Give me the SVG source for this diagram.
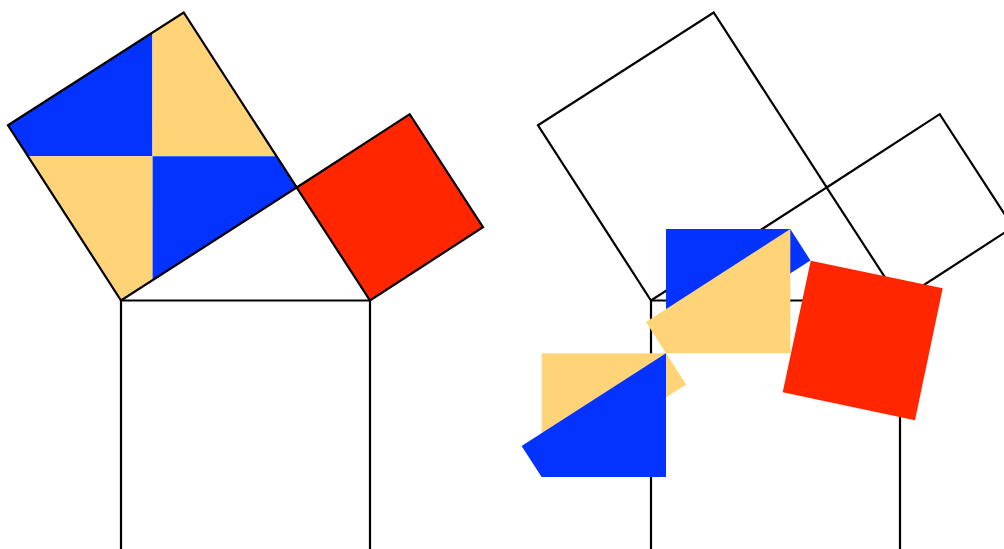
<svg xmlns="http://www.w3.org/2000/svg" width="1004" height="549" viewBox="0 0 1004 549">
<style>
.b{fill:#0433ff}
.y{fill:#ffd479}
.r{fill:#ff2600}
.o{fill:none;stroke:#000;stroke-width:2.2;stroke-linejoin:miter}
</style>
<rect width="1004" height="549" fill="#fff"/>
<g id="left-figure">
<g id="left-pieces">
<polygon class="b" points="8,125.3 152.4,32.4 152.4,156.2 27.9,156.2"/>
<polygon class="y" points="152.4,32.4 183.7,12.5 276.5,156.2 152.4,156.2"/>
<polygon class="b" points="152.4,156.2 276.5,156.2 296.7,187.5 152.4,280.3"/>
<polygon class="y" points="27.9,156.2 152.4,156.2 152.4,280.3 121,300.5"/>
<polygon class="r" points="296.7,187.5 409.7,114.2 483,227.2 370,300.5"/>
</g>
<g id="left-outlines">
<polygon class="o" points="8,125.3 183.7,12.5 296.7,187.5 121,300.5"/>
<polygon class="o" points="296.7,187.5 409.7,114.2 483,227.2 370,300.5"/>
<polyline class="o" points="121,560 121,300.5 370,300.5 370,560"/>
</g>
</g>
<g id="right-figure">
<g id="right-outlines">
<polygon class="o" points="538,125.3 713.7,12.5 826.7,187.5 651,300.5"/>
<polygon class="o" points="826.7,187.5 939.7,114.2 1013,227.2 900,300.5"/>
<polyline class="o" points="651,560 651,300.5 900,300.5 900,560"/>
</g>
<g id="right-pieces">
<polygon class="b" points="666,229 790.3,229 810.4,260.4 666,353.2"/>
<polygon class="y" points="790.3,229 790.3,353.2 666,353.2 646,322"/>
<polygon class="y" points="541.6,353.2 666,353.2 686.2,384.5 541.6,477"/>
<polygon class="b" points="521.6,446.1 666,353.2 666,477 541.6,477"/>
<polygon class="r" points="810.7,260.7 942.7,288.3 915,420.3 782.7,392.3"/>
</g>
</g>
</svg>
